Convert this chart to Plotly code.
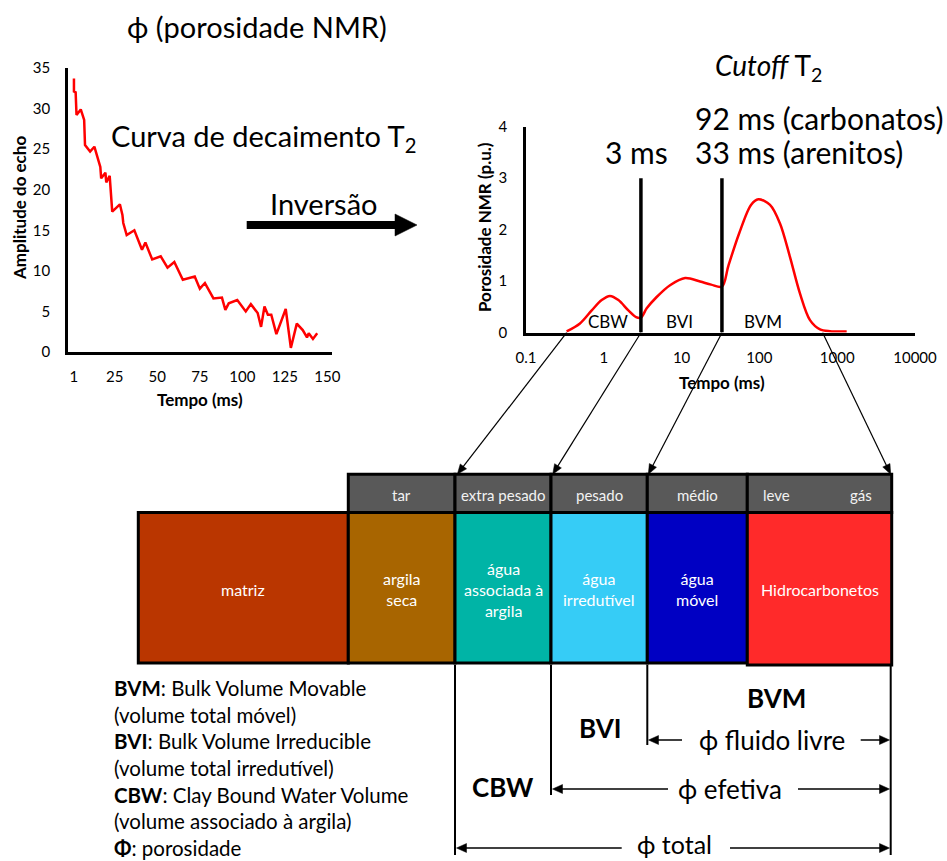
import numpy as np
import plotly.graph_objects as go

W, H = 947, 861
FONT = "Lato"

# --- Echo decay curve (left chart) ---
echo_time = [1, 1, 2, 2.5, 5, 7, 7.5, 10.5, 13, 16.5, 17, 19.5, 20, 22, 23.5, 28, 29.5,
             30, 32, 36.5, 41, 43, 47, 52, 56, 60, 65, 72, 75, 78, 83, 88, 90, 92, 97,
             102, 105, 109, 111, 113, 115, 117, 120, 125.5, 128.5, 132, 135.5, 138, 139,
             141.5, 144]
echo_amp = [33.7, 32.1, 32.0, 29.2, 29.9, 28.6, 25.5, 24.7, 25.3, 22.8, 21.4, 22.1, 20.9,
            21.7, 17.3, 18.2, 16.9, 15.9, 14.4, 15.0, 12.6, 13.5, 11.4, 11.8, 10.4, 11.1,
            8.9, 9.3, 7.8, 8.5, 6.6, 6.7, 5.2, 6.0, 6.4, 5.0, 5.9, 4.8, 3.1, 5.6, 4.6, 4.6,
            2.2, 5.3, 0.5, 3.5, 2.7, 1.8, 2.3, 1.6, 2.3]
echo_ticks = [1, 25, 50, 75, 100, 125, 150]

# --- T2 distribution (right chart) ---
t2_ms = [0.333, 0.494, 0.70, 0.94, 1.20, 1.54, 2.07, 2.6, 3.0, 3.56, 4.78, 7.1, 11.1,
         17.3, 24.0, 33.0, 40.0, 55.0, 78.0, 97.0, 137.0, 184.0, 247.0, 332.0, 447.0,
         601.0, 808.0, 1324.0]
t2_por = [0.02, 0.175, 0.43, 0.63, 0.71, 0.63, 0.43, 0.30, 0.29, 0.47, 0.69, 0.92, 1.06,
          0.99, 0.93, 0.89, 1.30, 1.93, 2.48, 2.59, 2.48, 2.12, 1.47, 0.76, 0.24, 0.06,
          0.025, 0.02]
t2_ticks = [0.1, 1, 10, 100, 1000, 10000]
t2_cutoffs = [3, 33]
cutoff_top = 3
zone_labels = ["CBW", "BVI", "BVM"]
zone_t2 = [1.13, 9.3, 112]
t2_arrow_from = [0.333, 3, 33, 650]

# --- Volume model ---
header_labels = ["tar", "extra pesado", "pesado", "médio"]
box_labels = ["matriz", "argila<br>seca", "água<br>associada à<br>argila",
              "água<br>irredutível", "água<br>móvel", "Hidrocarbonetos"]
box_colors = ["#BA3600", "#A86500", "#00B4A6", "#36CCF6", "#0000C3", "#FF2A2A"]
header_color = "#595959"

# layout geometry (pixels)
L_DOM = (68, 332, 68, 352)      # left chart x0, x1, ytop, ybottom
R_DOM = (526, 915, 126.7, 332.5)
R_RANGE = (-1, 4)
col_x = [138.3, 348.3, 455, 551, 647.3, 747.3, 891.7]
hdr_top, box_top, box_bot = 474.3, 512.5, 663


def px(x):
    return x / W


def py(y):
    return 1 - y / H


def t2_px(v):
    f = (np.log10(v) - R_RANGE[0]) / (R_RANGE[1] - R_RANGE[0])
    return R_DOM[0] + f * (R_DOM[1] - R_DOM[0])


fig = go.Figure()

fig.add_trace(go.Scatter(x=echo_time, y=echo_amp, mode="lines",
                         line=dict(color="#FF0000", width=2.5),
                         xaxis="x", yaxis="y", showlegend=False, hoverinfo="skip"))

fig.add_trace(go.Scatter(x=t2_ms, y=t2_por, mode="lines",
                         line=dict(color="#FF0000", width=2.5, shape="spline", smoothing=0.9),
                         xaxis="x2", yaxis="y2", showlegend=False, hoverinfo="skip"))

for c in t2_cutoffs:
    fig.add_trace(go.Scatter(x=[c, c], y=[0, cutoff_top], mode="lines",
                             line=dict(color="black", width=3.5),
                             xaxis="x2", yaxis="y2", showlegend=False, hoverinfo="skip"))

axis_common = dict(showline=True, linecolor="black", linewidth=2.5, showgrid=False,
                   zeroline=False, ticks="", tickfont=dict(family=FONT, size=15, color="black"),
                   fixedrange=True)

fig.update_layout(
    width=W, height=H,
    margin=dict(l=0, r=0, t=0, b=0, pad=0, autoexpand=False),
    paper_bgcolor="white", plot_bgcolor="rgba(0,0,0,0)",
    font=dict(family=FONT, color="black"),
    xaxis=dict(domain=[px(L_DOM[0]), px(L_DOM[1])], range=[-2.5, 152.7],
               tickvals=echo_ticks, anchor="y", ticklabelstandoff=9, **axis_common),
    yaxis=dict(domain=[py(L_DOM[3]), py(L_DOM[2])], range=[0, 35], dtick=5,
               anchor="x", ticklabelstandoff=12, **axis_common),
    xaxis2=dict(domain=[px(R_DOM[0]), px(R_DOM[1])], type="log", range=list(R_RANGE),
                tickvals=t2_ticks, ticktext=[str(t) for t in t2_ticks], anchor="y2",
                ticklabelstandoff=10, **axis_common),
    yaxis2=dict(domain=[py(R_DOM[3]), py(R_DOM[2])], range=[0, 4], dtick=1,
                anchor="x2", ticklabelstandoff=13, **axis_common),
)

ann = []
shapes = []


def text(x, y, s, size, bold=False, color="black", xanchor="center", align="center",
         angle=0):
    if bold:
        s = f"<b>{s}</b>"
    ann.append(dict(x=px(x), y=py(y), xref="paper", yref="paper", text=s,
                    showarrow=False, xanchor=xanchor, yanchor="middle", align=align,
                    textangle=angle, font=dict(family=FONT, size=size, color=color)))


def line(x0, y0, x1, y1, width=2):
    shapes.append(dict(type="line", xref="paper", yref="paper", x0=px(x0), y0=py(y0),
                       x1=px(x1), y1=py(y1), line=dict(color="black", width=width)))


def arrow(tip, tail, width=1.3, head_len=10, head_w=4.5):
    tip = np.array(tip, float)
    tail = np.array(tail, float)
    u = (tip - tail) / np.linalg.norm(tip - tail)
    n = np.array([-u[1], u[0]])
    base = tip - u * head_len
    line(tail[0], tail[1], base[0] + u[0], base[1] + u[1], width=width)
    a, b = base + n * head_w, base - n * head_w
    shapes.append(dict(type="path", xref="paper", yref="paper",
                       path=(f"M {px(tip[0])} {py(tip[1])} L {px(a[0])} {py(a[1])} "
                             f"L {px(b[0])} {py(b[1])} Z"),
                       fillcolor="black", line=dict(color="black", width=0.5)))


# axis titles
text(200, 400, "Tempo (ms)", 17, bold=True)
text(19, 208, "Amplitude do echo", 17, bold=True, angle=-90)
text(722, 382.7, "Tempo (ms)", 17, bold=True)
text(484, 227, "Porosidade NMR (p.u.)", 17, bold=True, angle=-90)

# headings over the charts
text(257, 27, "ϕ (porosidade NMR)", 29)
text(263, 137, "Curva de decaimento T<sub>2</sub>", 29)
text(323.5, 203, "Inversão", 29)
text(768, 67, "<i>Cutoff</i> T<sub>2</sub>", 28)
text(693, 118, "92 ms (carbonatos)", 30, xanchor="left")
text(636.7, 152, "3 ms", 30)
text(693, 152, "33 ms (arenitos)", 30, xanchor="left")

# inversion arrow
arrow((417, 225), (246.7, 225), width=8, head_len=22, head_w=11)

# zone labels inside T2 chart
for lab, v in zip(zone_labels, zone_t2):
    ann.append(dict(x=np.log10(v), y=0.21, xref="x2", yref="y2", text=lab,
                    showarrow=False, xanchor="center", yanchor="middle",
                    font=dict(family=FONT, size=17, color="black")))

# arrows from the T2 axis to the fluid-type header
tips = [457.3, 552.7, 648.3, 890.7]
for v, tx in zip(t2_arrow_from, tips):
    arrow((tx, hdr_top), (t2_px(v), 332.7), width=1.2, head_len=10, head_w=4)

# header row
hdr_cols = col_x[1:]
for i in range(len(hdr_cols) - 1):
    shapes.append(dict(type="rect", xref="paper", yref="paper",
                       x0=px(hdr_cols[i]), x1=px(hdr_cols[i + 1]), y0=py(box_top), y1=py(hdr_top),
                       fillcolor=header_color, line=dict(color="black", width=3)))
for i, lab in enumerate(header_labels):
    text((hdr_cols[i] + hdr_cols[i + 1]) / 2, 495, lab, 15, color="#F2F2F2")
text(776.7, 495, "leve", 15, color="#F2F2F2")
text(860.7, 495, "gás", 15, color="#F2F2F2")

# volume boxes
for i, (lab, col) in enumerate(zip(box_labels, box_colors)):
    bot = box_bot + (2 if i == len(box_labels) - 1 else 0)
    shapes.append(dict(type="rect", xref="paper", yref="paper",
                       x0=px(col_x[i]), x1=px(col_x[i + 1]), y0=py(bot), y1=py(box_top),
                       fillcolor=col, line=dict(color="black", width=3)))
    text((col_x[i] + col_x[i + 1]) / 2, 589, lab, 16, color="white")

# porosity brackets below the boxes
line(455, 665, 455, 855)
line(551, 665, 551, 795)
line(647.3, 665, 647.3, 745)
line(890.7, 665, 890.7, 855)

text(776, 698, "BVM", 26, bold=True)
text(600.7, 728, "BVI", 26, bold=True)
text(503, 787, "CBW", 26, bold=True)

text(771.7, 740, "ϕ fluido livre", 26)
arrow((648.5, 740), (682, 740), width=1.5, head_len=10, head_w=4.5)
arrow((889.5, 740), (860.7, 740), width=1.5, head_len=10, head_w=4.5)

text(730, 789, "ϕ efetiva", 26)
arrow((552.5, 789), (668, 789), width=1.5, head_len=10, head_w=4.5)
arrow((889.5, 789), (798, 789), width=1.5, head_len=10, head_w=4.5)

text(674.5, 844, "ϕ total", 25)
arrow((456.5, 848), (621.7, 848), width=1.5, head_len=10, head_w=4.5)
arrow((889.5, 848), (730, 848), width=1.5, head_len=10, head_w=4.5)

# glossary
text(112, 768,
     "<b>BVM</b>: Bulk Volume Movable<br>(volume total móvel)<br>"
     "<b>BVI</b>: Bulk Volume Irreducible<br>(volume total irredutível)<br>"
     "<b>CBW</b>: Clay Bound Water Volume<br>(volume associado à argila)<br>"
     "<b>Φ</b>: porosidade", 20.5, xanchor="left", align="left")

fig.update_layout(annotations=ann, shapes=shapes)
fig.write_html("out.html")
